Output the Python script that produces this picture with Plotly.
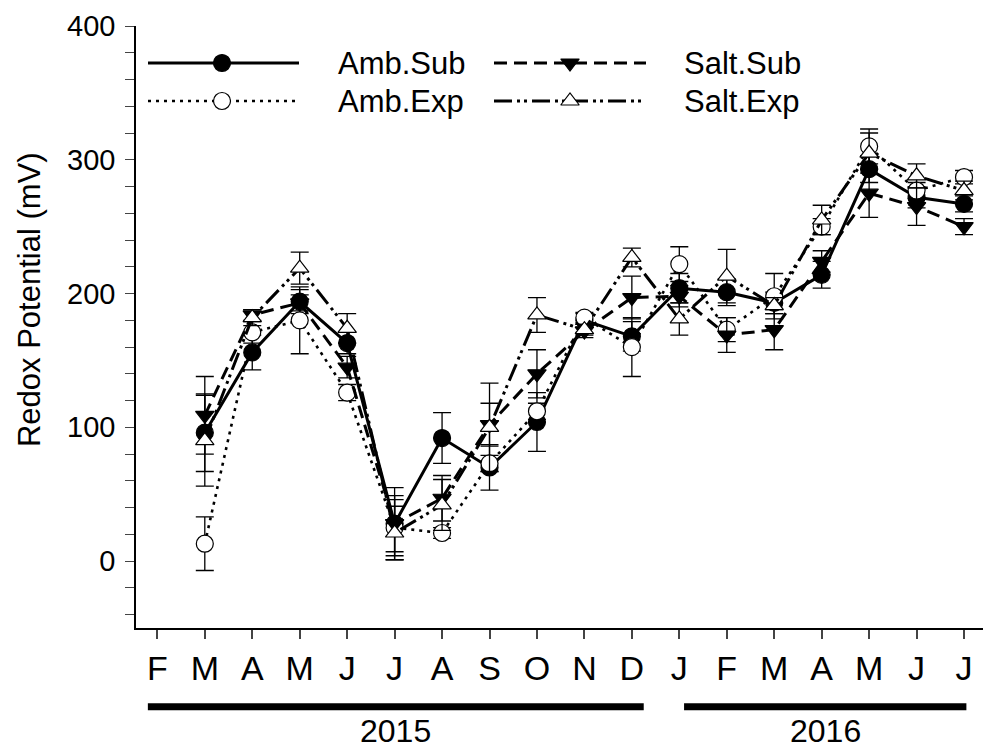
import plotly.graph_objects as go

# Month positions: Feb 2015 .. Jul 2016
months = ["F", "M", "A", "M", "J", "J", "A", "S", "O", "N", "D",
          "J", "F", "M", "A", "M", "J", "J"]
month_idx = list(range(len(months)))
data_idx = month_idx[1:]          # measurements start in March 2015

amb_sub = [96, 156, 194, 163, 28, 92, 70, 104, 180, 168, 204, 201, 193, 214, 293, 272, 267]
amb_sub_err = [29, 13, 9, 8, 27, 19, 17, 22, 5, 11, 11, 10, 8, 10, 10, 8, 6]

amb_exp = [13, 171, 180, 126, 25, 21, 73, 112, 182, 160, 222, 173, 198, 250, 310, 277, 287]
amb_exp_err = [20, 8, 25, 6, 21, 4, 6, 6, 4, 22, 13, 9, 17, 6, 13, 6, 5]

salt_sub = [109, 184, 193, 145, 28, 47, 102, 140, 172, 197, 198, 169, 173, 224, 275, 265, 250]
salt_sub_err = [29, 4, 6, 8, 21, 17, 16, 18, 5, 16, 8, 13, 15, 8, 18, 14, 6]

salt_exp = [90, 182, 219, 174, 21, 42, 100, 184, 173, 227, 181, 213, 191, 255, 305, 288, 277]
salt_exp_err = [34, 6, 12, 11, 20, 19, 33, 13, 4, 7, 12, 20, 6, 11, 15, 9, 7]

years = ["2015", "2016"]
year_spans = [(-0.2, 10.25), (11.1, 17.05)]

FONT = "Liberation Sans, Arial, sans-serif"

styles = [
    dict(name="Amb.Sub", y=amb_sub, err=amb_sub_err, dash="solid", lw=3,
         symbol="circle", fill="black", size=17),
    dict(name="Amb.Exp", y=amb_exp, err=amb_exp_err, dash="3px,5px", lw=2.6,
         symbol="circle", fill="white", size=17),
    dict(name="Salt.Sub", y=salt_sub, err=salt_sub_err, dash="13px,7px", lw=3,
         symbol="triangle-down", fill="black", size=16),
    dict(name="Salt.Exp", y=salt_exp, err=salt_exp_err,
         dash="18px,5px,3px,4px,3px,5px", lw=3,
         symbol="triangle-up", fill="white", size=16),
]

fig = go.Figure()

for s in styles:
    fig.add_trace(go.Scatter(
        x=data_idx, y=s["y"], mode="lines+markers", name=s["name"],
        showlegend=False,
        line=dict(color="black", width=s["lw"], dash=s["dash"]),
        marker=dict(symbol=s["symbol"], size=s["size"], color=s["fill"],
                    line=dict(color="black", width=1.2)),
        error_y=dict(type="data", array=s["err"], color="black",
                     thickness=1.3, width=9),
    ))

# Hand-built legend on a pixel-scaled overlay axis
leg_rows = [63, 101]
leg_cols = [(148, 299, 222, 336), (494, 646, 570, 682)]
for i, s in enumerate(styles):
    col, row = divmod(i, 2)
    x0, x1, xm, xt = leg_cols[col]
    yy = leg_rows[row]
    fig.add_trace(go.Scatter(
        x=[x0, x1], y=[yy, yy], mode="lines", xaxis="x2", yaxis="y2",
        showlegend=False, hoverinfo="skip",
        line=dict(color="black", width=s["lw"], dash=s["dash"])))
    fig.add_trace(go.Scatter(
        x=[xm], y=[yy], mode="markers", xaxis="x2", yaxis="y2",
        showlegend=False, hoverinfo="skip",
        marker=dict(symbol=s["symbol"], size=s["size"], color=s["fill"],
                    line=dict(color="black", width=1.2))))
    fig.add_annotation(x=xt, y=yy, xref="x2", yref="y2", text=s["name"],
                       showarrow=False, xanchor="left", yanchor="middle",
                       font=dict(family=FONT, size=31, color="black"))

# Year bars and labels under the month axis
for label, (a, b) in zip(years, year_spans):
    fig.add_shape(type="line", xref="x", yref="paper", x0=a, x1=b,
                  y0=-0.131, y1=-0.131, line=dict(color="black", width=7))
    fig.add_annotation(x=(a + b) / 2, y=-0.171, xref="x", yref="paper",
                       text=label, showarrow=False, yanchor="middle",
                       font=dict(family=FONT, size=32, color="black"))

fig.add_annotation(x=-0.125, y=0.545, xref="paper", yref="paper",
                   text="Redox Potential (mV)", textangle=-90, showarrow=False,
                   xanchor="center", yanchor="middle",
                   font=dict(family=FONT, size=31, color="black"))

fig.update_layout(
    width=983, height=749,
    margin=dict(l=136, r=0, t=26, b=121),
    paper_bgcolor="white", plot_bgcolor="white",
    font=dict(family=FONT, color="black"),
    xaxis=dict(range=[-0.45, 17.4], tickmode="array", tickvals=month_idx,
               ticktext=months, ticks="outside", ticklen=9, tickwidth=1.5,
               showline=True, linecolor="black", linewidth=1.5,
               showgrid=False, zeroline=False, tickfont=dict(size=34),
               ticklabelstandoff=0),
    yaxis=dict(range=[-50, 400], tickmode="array",
               tickvals=[0, 100, 200, 300, 400], ticks="outside", ticklen=9,
               tickwidth=1.3, showline=True, linecolor="black", linewidth=1.5,
               showgrid=False, zeroline=False, tickfont=dict(size=29),
               ticklabelstandoff=4,
               minor=dict(tickmode="linear", tick0=0, dtick=20,
                          ticks="outside", ticklen=9, tickwidth=1.1,
                          showgrid=False)),
    xaxis2=dict(overlaying="x", range=[136, 983], visible=False),
    yaxis2=dict(overlaying="y", range=[628, 26], visible=False),
)

fig.write_html("out.html")
